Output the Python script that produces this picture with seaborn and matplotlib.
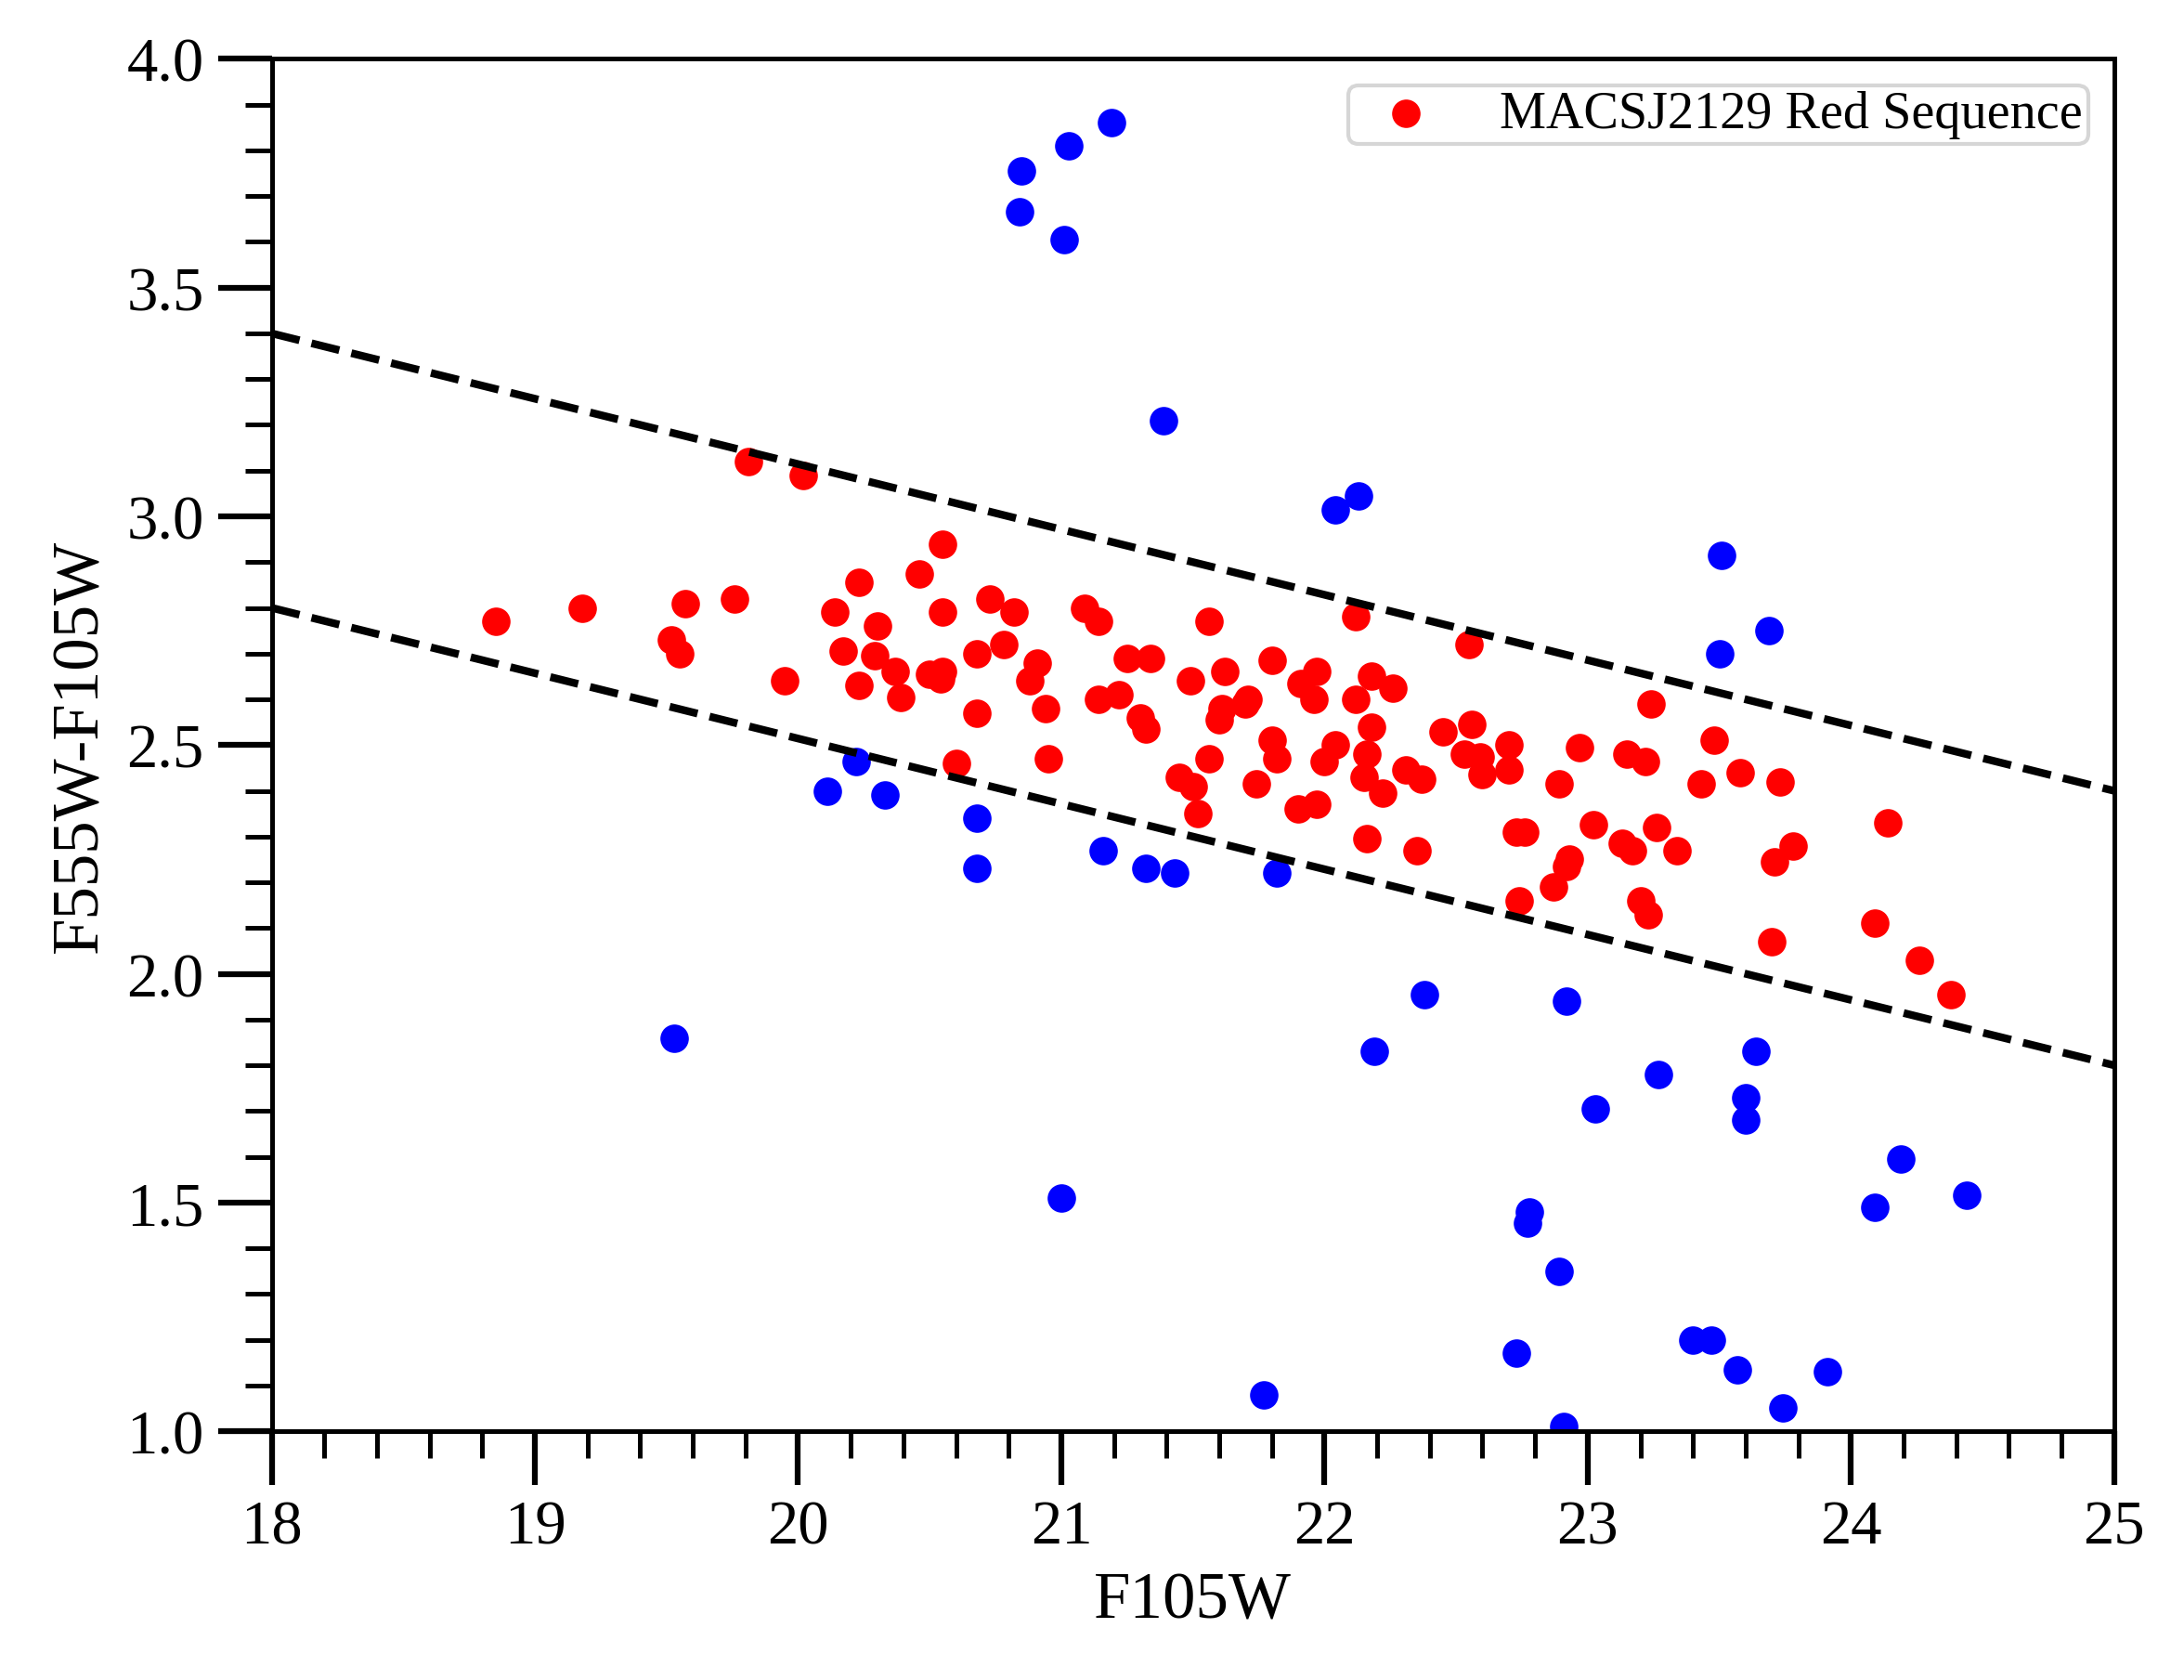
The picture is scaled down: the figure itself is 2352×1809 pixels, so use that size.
import numpy as np
import seaborn as sns
import matplotlib.pyplot as plt
from matplotlib.ticker import MultipleLocator, FormatStrFormatter

# red sequence members
red_mag = [19.81, 20.02, 18.85, 19.18, 19.57, 19.76, 19.52, 19.55, 19.95, 20.55,
           20.46, 20.23, 20.14, 20.30, 20.55, 20.17, 20.29, 20.37, 20.50, 20.55,
           20.54, 20.23, 20.39, 20.60,
           20.73, 20.82, 20.68, 20.78, 20.91, 20.88, 20.94, 20.68, 20.95, 21.09,
           21.14, 21.56, 21.25, 21.34, 21.49, 21.62, 21.80, 21.14, 21.22, 21.30,
           21.32, 21.61, 21.60, 21.71, 21.70, 21.91, 21.97, 21.96, 22.12, 22.18,
           22.26, 22.12, 22.18, 22.55, 22.45, 22.56, 22.70, 22.53, 22.59, 22.60,
           22.70, 21.80, 21.82, 22.04, 22.00, 22.16, 22.15, 22.22, 22.31, 22.37,
           21.56, 21.45, 21.50, 21.52, 21.74, 21.90, 21.97, 22.16, 22.35, 22.73,
           22.76, 22.74,
           23.24, 22.97, 23.15, 23.22, 23.48, 22.89, 23.43, 23.58, 23.73, 23.02,
           23.13, 23.17, 23.26, 23.34, 22.93, 22.92, 22.87, 23.20, 23.23, 23.78,
           23.71, 24.14, 23.70, 24.09, 24.26, 24.38]
red_col = [3.12, 3.09, 2.77, 2.80, 2.81, 2.82, 2.73, 2.70, 2.64, 2.94,
           2.875, 2.855, 2.79, 2.76, 2.79, 2.705, 2.695, 2.66, 2.655, 2.66,
           2.645, 2.63, 2.605, 2.46,
           2.82, 2.79, 2.70, 2.72, 2.68, 2.64, 2.58, 2.57, 2.47, 2.80,
           2.77, 2.77, 2.69, 2.69, 2.64, 2.66, 2.685, 2.60, 2.61, 2.56,
           2.535, 2.58, 2.555, 2.60, 2.59, 2.635, 2.66, 2.60, 2.78, 2.65,
           2.625, 2.60, 2.54, 2.72, 2.53, 2.545, 2.50, 2.48, 2.475, 2.435,
           2.445, 2.51, 2.47, 2.50, 2.465, 2.48, 2.43, 2.395, 2.445, 2.425,
           2.47, 2.43, 2.41, 2.35, 2.415, 2.36, 2.37, 2.295, 2.27, 2.31,
           2.31, 2.16,
           2.59, 2.495, 2.48, 2.465, 2.51, 2.415, 2.415, 2.44, 2.42, 2.325,
           2.285, 2.27, 2.32, 2.27, 2.25, 2.235, 2.19, 2.16, 2.13, 2.28,
           2.245, 2.33, 2.07, 2.11, 2.03, 1.955]

# everything else
other_mag = [20.85, 20.84, 21.01, 21.03, 21.19, 21.39, 22.04, 22.13, 23.51, 23.69,
             23.50, 20.22, 20.11, 20.33, 20.68, 20.68, 21.16, 21.32, 21.43, 21.82,
             19.53, 22.38, 22.19, 21.00, 21.77, 22.92, 23.64, 23.27, 23.03, 23.60,
             23.60, 24.19, 24.09, 24.44, 22.78, 22.77, 22.89, 22.73, 23.40, 23.47,
             23.57, 23.91, 23.74, 22.91]
other_col = [3.755, 3.665, 3.605, 3.81, 3.86, 3.21, 3.015, 3.045, 2.915, 2.75,
             2.70, 2.465, 2.40, 2.39, 2.34, 2.23, 2.27, 2.23, 2.22, 2.22,
             1.86, 1.955, 1.83, 1.51, 1.08, 1.94, 1.83, 1.78, 1.705, 1.73,
             1.68, 1.595, 1.49, 1.515, 1.48, 1.455, 1.35, 1.17, 1.20, 1.20,
             1.135, 1.13, 1.05, 1.01]

# selection limits
line_x = [18, 25]
upper_y = [3.4, 2.4]
lower_y = [2.8, 1.8]

plt.rcParams['font.family'] = ['Liberation Serif', 'DejaVu Serif']

fig, ax = plt.subplots(figsize=(7.84, 6.0333), dpi=300)
fig.subplots_adjust(left=0.1244, right=0.968, bottom=0.148, top=0.9644)

sns.scatterplot(x=red_mag, y=red_col, color='#ff0000', s=54, linewidth=0,
                label='MACSJ2129 Red Sequence', ax=ax)
sns.scatterplot(x=other_mag, y=other_col, color='#0000ff', s=54, linewidth=0, ax=ax)
sns.lineplot(x=line_x, y=upper_y, color='black', linestyle='--', lw=2, ax=ax)
sns.lineplot(x=line_x, y=lower_y, color='black', linestyle='--', lw=2, ax=ax)

ax.set_xlim(18, 25)
ax.set_ylim(1.0, 4.0)
ax.xaxis.set_major_locator(MultipleLocator(1))
ax.xaxis.set_minor_locator(MultipleLocator(0.2))
ax.yaxis.set_major_locator(MultipleLocator(0.5))
ax.yaxis.set_minor_locator(MultipleLocator(0.1))
ax.yaxis.set_major_formatter(FormatStrFormatter('%.1f'))

ax.tick_params(which='major', direction='out', length=14, width=1.5, labelsize=16)
ax.tick_params(which='minor', direction='out', length=7, width=1.2)
for sp in ax.spines.values():
    sp.set_linewidth(1.2)

ax.set_xlabel('F105W', fontsize=17)
ax.set_ylabel('F555W-F105W', fontsize=17)
ax.legend(loc='upper right', fontsize=13.5, borderpad=0.1, borderaxespad=0.5)

fig.savefig('out.png', dpi=300)
